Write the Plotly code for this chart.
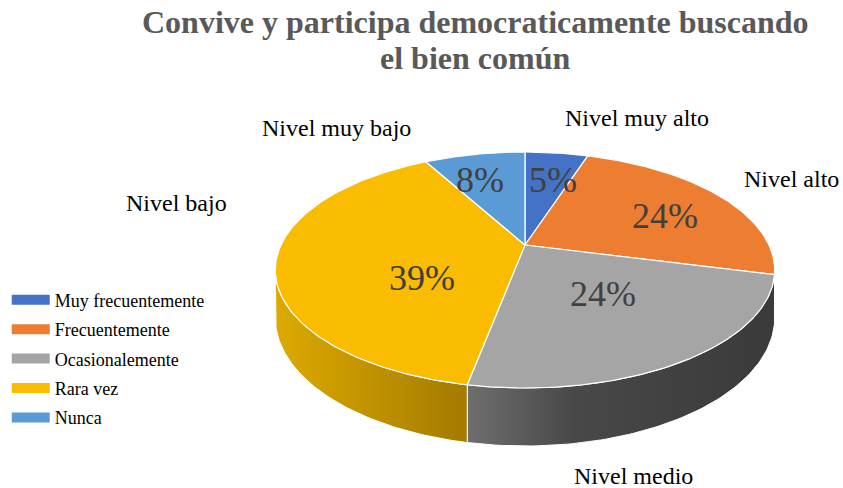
import numpy as np
import plotly.graph_objects as go

# ---- data ----
categories = ["Muy frecuentemente", "Frecuentemente", "Ocasionalemente", "Rara vez", "Nunca"]
level_labels = ["Nivel muy alto", "Nivel alto", "Nivel medio", "Nivel bajo", "Nivel muy bajo"]
values = [5, 24, 24, 39, 8]
top_colors = ["#4472C4", "#ED7D31", "#A5A5A5", "#FABC00", "#5B9BD5"]
side_scales = [
    [[0, "#2f5597"], [1, "#223f70"]],
    [[0, "#c0601e"], [1, "#a04f18"]],
    [[0, "#6e6e6e"], [0.35, "#484848"], [1, "#3a3a3a"]],
    [[0, "#dcaa00"], [1, "#a47a00"]],
    [[0, "#41719c"], [1, "#2e5577"]],
]
title_lines = ["Convive y participa democraticamente buscando", "el bien común"]

SERIF = "Liberation Serif, Times New Roman, serif"

# ---- projection (3D pie in perspective, pixel space) ----
W, H = 843, 488
cx, cy = 525, 245
a, b, p, t = 244, 112.7, 0.212, 45.7


def proj(phi_deg, r=1.0, depth=0.0):
    ph = np.radians(phi_deg)
    x = r * np.sin(ph)
    z = r * np.cos(ph)
    d = 1 + p * z
    return cx + a * x / d, cy + (-b * z + depth) / d


total = float(sum(values))
cum = np.cumsum([0] + values) / total * 360.0
vis_lo = np.degrees(np.arccos(-p))
vis_hi = 360 - vis_lo

fig = go.Figure()

# side faces
for i, v in enumerate(values):
    s, e = cum[i], cum[i + 1]
    lo, hi = max(s, vis_lo), min(e, vis_hi)
    if hi <= lo:
        continue
    ph = np.linspace(lo, hi, 80)
    xt, yt = proj(ph)
    xb, yb = proj(ph[::-1], depth=t)
    fig.add_trace(go.Scatter(
        x=np.concatenate([xt, xb, xt[:1]]), y=np.concatenate([yt, yb, yt[:1]]),
        mode="lines", fill="toself",
        fillgradient=dict(type="horizontal", colorscale=side_scales[i]),
        line=dict(color="white", width=1), hoverinfo="skip", showlegend=False))

# top faces
for i, v in enumerate(values):
    s, e = cum[i], cum[i + 1]
    ph = np.linspace(s, e, 120)
    xa, ya = proj(ph)
    x0, y0 = proj(0.0, r=0.0)
    fig.add_trace(go.Scatter(
        x=np.concatenate([[x0], xa, [x0]]), y=np.concatenate([[y0], ya, [y0]]),
        mode="lines", fill="toself", fillcolor=top_colors[i],
        line=dict(color="white", width=1.2), hoverinfo="skip", showlegend=False))

# legend entries
for i, c in enumerate(categories):
    fig.add_trace(go.Scatter(
        x=[None], y=[None], mode="lines", name=c, legendgroup=c,
        line=dict(color=top_colors[i], width=14)))

# percent labels
pct_pos = [(553, 180), (665, 216), (603, 294), (422, 278), (480, 180)]
for i, v in enumerate(values):
    fig.add_annotation(x=pct_pos[i][0], y=pct_pos[i][1], text=f"{v}%", showarrow=False,
                       font=dict(family=SERIF, size=36, color="#404040"))

# category labels
cat_pos = [(637, 118), (791, 179), (633, 476), (176, 203), (336, 128)]
for i, lab in enumerate(level_labels):
    fig.add_annotation(x=cat_pos[i][0], y=cat_pos[i][1], text=lab, showarrow=False,
                       font=dict(family=SERIF, size=24, color="#000000"))

# title
for k, (line, ty) in enumerate(zip(title_lines, [22, 58])):
    fig.add_annotation(x=475, y=ty, text="<b>" + line + "</b>", showarrow=False,
                       font=dict(family=SERIF, size=32, color="#595959"))

fig.update_layout(
    width=W, height=H,
    margin=dict(l=0, r=0, t=0, b=0),
    paper_bgcolor="white", plot_bgcolor="white",
    xaxis=dict(range=[0, W], visible=False, fixedrange=True),
    yaxis=dict(range=[H, 0], visible=False, fixedrange=True),
    showlegend=True,
    legend=dict(x=0.008, xanchor="left", y=0.423, yanchor="top", tracegroupgap=3,
                itemwidth=38,
                font=dict(family=SERIF, size=18, color="#000000"),
                bgcolor="rgba(0,0,0,0)"),
)

fig.write_html("out.html")
